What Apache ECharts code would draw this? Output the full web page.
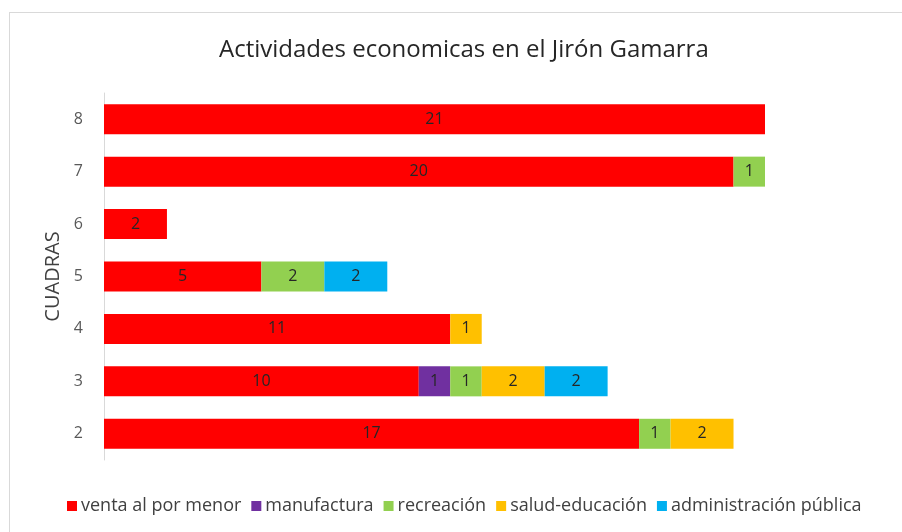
<!DOCTYPE html>
<html>
<head>
<meta charset="utf-8">
<script src="https://cdn.jsdelivr.net/npm/echarts@6/dist/echarts.min.js"></script>
<style>
  html, body { margin: 0; padding: 0; background: #fff; }
  #frame { position: absolute; left: 9px; top: 12px; width: 893px; height: 520px; border-left: 1px solid #d9d9d9; border-top: 1px solid #d9d9d9; box-sizing: border-box; }
  #chart { width: 902px; height: 532px; position: absolute; left: 0; top: 0; }
</style>
</head>
<body>
<div id="frame"></div>
<div id="chart"></div>
<script>
const cuadras = ['2', '3', '4', '5', '6', '7', '8']
const seriesNames = ['venta al por menor', 'manufactura', 'recreación', 'salud-educación', 'administración pública']
const colors = ['#ff0000', '#7030a0', '#92d050', '#ffc000', '#00b0f0']

const venta = [17, 10, 11, 5, 2, 20, 21]
const manufactura = [0, 1, 0, 0, 0, 0, 0]
const recreacion = [1, 1, 0, 2, 0, 1, 0]
const salud = [2, 2, 1, 0, 0, 0, 0]
const administracion = [0, 2, 0, 2, 0, 0, 0]

const values = [venta, manufactura, recreacion, salud, administracion]
const font = 'Open Sans, sans-serif'

const chart = echarts.init(document.getElementById('chart'))

chart.setOption({
  backgroundColor: 'transparent',
  animation: false,
  title: {
    text: 'Actividades economicas en el Jirón Gamarra',
    left: 214,
    top: 33,
    textStyle: { fontFamily: font, fontSize: 24, fontWeight: 'normal', color: '#262626' }
  },
  legend: {
    data: seriesNames,
    bottom: 12,
    left: 62,
    icon: 'rect',
    itemWidth: 10,
    itemHeight: 10,
    itemGap: 10,
    textStyle: { fontFamily: font, fontSize: 18, color: '#404040', padding: [0, 0, 0, -1] }
  },
  grid: { left: 104, right: 137, top: 93, bottom: 72 },
  xAxis: {
    type: 'value',
    min: 0,
    max: 21,
    show: false
  },
  yAxis: {
    type: 'category',
    data: cuadras,
    name: 'CUADRAS',
    nameLocation: 'middle',
    nameGap: 38,
    nameTextStyle: { fontFamily: font, fontSize: 20, color: '#404040' },
    axisLine: { lineStyle: { color: '#d9d9d9' } },
    axisTick: { show: false },
    axisLabel: { fontFamily: font, fontSize: 16, color: '#595959', margin: 21 }
  },
  series: seriesNames.map((name, i) => ({
    name: name,
    type: 'bar',
    stack: 'total',
    barWidth: 30,
    data: values[i],
    itemStyle: { color: colors[i] },
    label: {
      show: true,
      position: 'inside',
      fontFamily: font,
      fontSize: 16,
      color: '#262626',
      formatter: p => (p.value > 0 ? p.value : '')
    }
  }))
})
</script>
</body>
</html>
